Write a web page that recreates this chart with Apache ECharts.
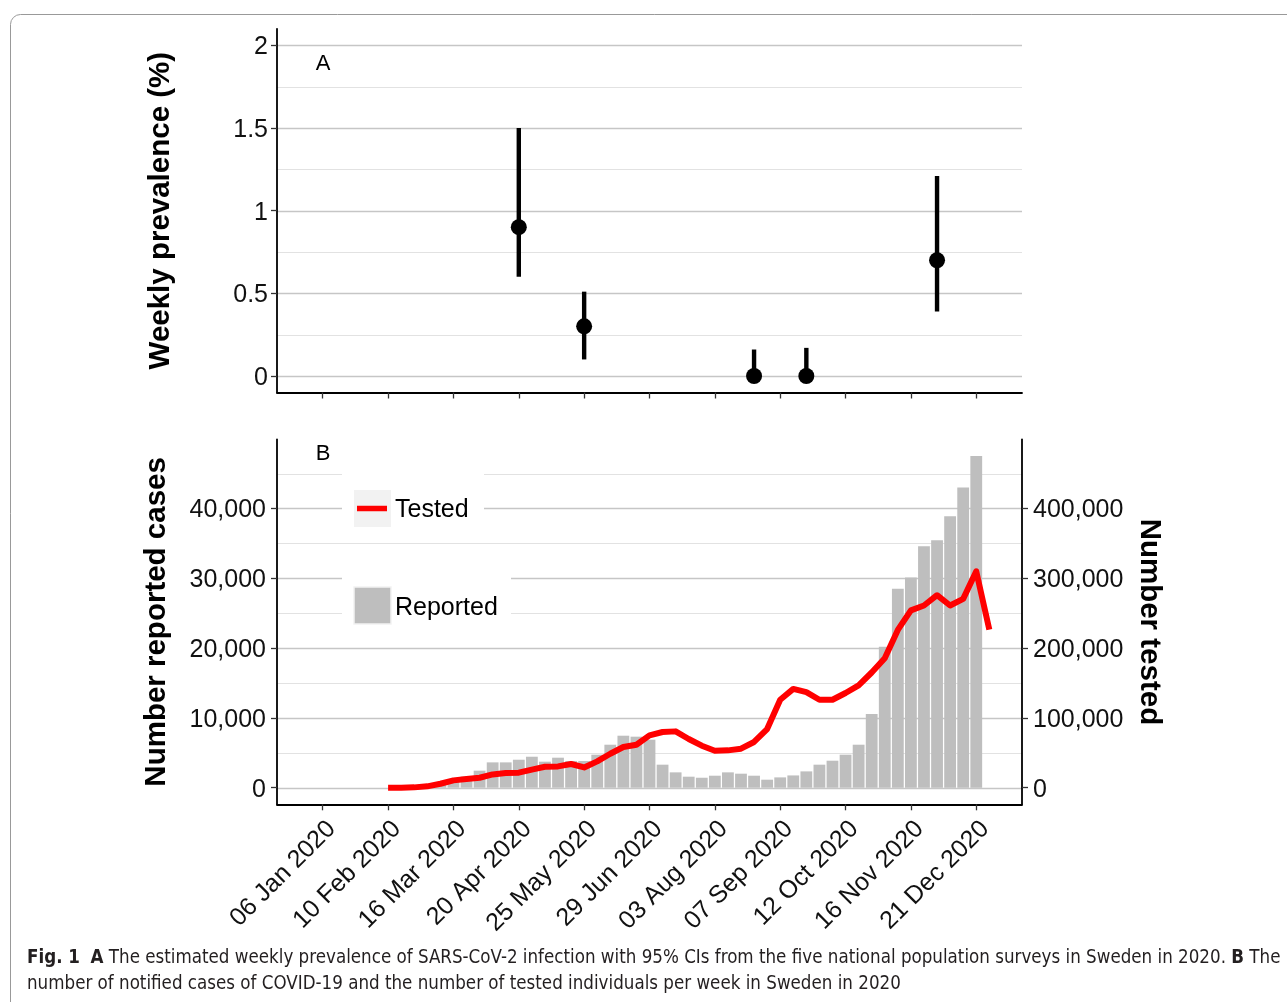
<!DOCTYPE html>
<html>
<head>
<meta charset="utf-8">
<script src="https://cdn.jsdelivr.net/npm/echarts@6/dist/echarts.min.js"></script>
<style>
html, body { margin: 0; padding: 0; background: #fff; }
#chart { width: 1287px; height: 1002px; }
</style>
</head>
<body>
<div id="chart"></div>
<script>
// x values are ISO weeks of 2020 (week 2 starts Monday 06 Jan)
var tickWeeks = [2, 7, 12, 17, 22, 27, 32, 37, 42, 47, 52];
var tickLabels = ['06 Jan 2020', '10 Feb 2020', '16 Mar 2020', '20 Apr 2020', '25 May 2020', '29 Jun 2020',
    '03 Aug 2020', '07 Sep 2020', '12 Oct 2020', '16 Nov 2020', '21 Dec 2020'];

// A: weekly prevalence (%) from the five surveys, with 95% CI
var surveyWeeks = [17, 22, 35, 39, 49];
var prevalence  = [0.9, 0.3, 0, 0, 0.7];
var ciLow       = [0.6, 0.1, 0, 0, 0.39];
var ciHigh      = [1.5, 0.51, 0.16, 0.17, 1.21];

// B: reported cases per week (bars)
var reportedWeeks = [10, 11, 12, 13, 14, 15, 16, 17, 18, 19, 20, 21, 22, 23, 24, 25, 26, 27, 28, 29, 30, 31,
    32, 33, 34, 35, 36, 37, 38, 39, 40, 41, 42, 43, 44, 45, 46, 47, 48, 49, 50, 51, 52];
var reported = [200, 700, 1100, 1600, 2440, 3630, 3630, 4010, 4440, 3730, 4300, 3820, 3820, 4730, 6160, 7450,
    7310, 6880, 3300, 2200, 1580, 1430, 1720, 2200, 2010, 1720, 1150, 1480, 1760, 2340, 3300, 3870, 4730,
    6160, 10570, 20200, 28500, 30100, 34600, 35460, 38900, 43000, 47500];

// B: tested individuals per week (line, right axis)
var testedWeeks = [7, 8, 9, 10, 11, 12, 13, 14, 15, 16, 17, 18, 19, 20, 21, 22, 23, 24, 25, 26, 27, 28, 29, 30,
    31, 32, 33, 34, 35, 36, 37, 38, 39, 40, 41, 42, 43, 44, 45, 46, 47, 48, 49, 50, 51, 52, 53];
var tested = [0, 0, 500, 2000, 5700, 10500, 12400, 14300, 19000, 21000, 21500, 26000, 30000, 30500, 34000, 29000,
    37700, 48700, 58300, 61600, 75000, 79800, 80700, 69800, 60200, 53000, 53500, 55900, 65500, 84000, 126000,
    141500, 137000, 126000, 126000, 135700, 146700, 165000, 185400, 226000, 254000, 261000, 275700, 261000,
    270500, 310000, 226500];

var prevTicks   = [0, 0.5, 1, 1.5, 2];
var prevGrid    = [0, 0.25, 0.5, 0.75, 1, 1.25, 1.5, 1.75, 2];
var casesTicks  = [0, 10000, 20000, 30000, 40000];
var casesGrid   = [0, 5000, 10000, 15000, 20000, 25000, 30000, 35000, 40000, 45000];
var testedTicks = [0, 100000, 200000, 300000, 400000];

var xMin = -1.5, xMax = 55.5;
var FONT = 'Liberation Sans, Arial, Helvetica, sans-serif';
var CAPTION_FONT = '"Liberation Sans Narrow", "DejaVu Sans Condensed", sans-serif';

var chart = echarts.init(document.getElementById('chart'), null, { renderer: 'canvas' });

// 网格线：自定义系列，放在柱子后面
function gridLines(xi, yi, values, majors) {
    return {
        type: 'custom',
        xAxisIndex: xi,
        yAxisIndex: yi,
        silent: true,
        z: 0,
        data: values.map(function (v) { return [xMin, v]; }),
        renderItem: function (params, api) {
            var cs = params.coordSys;
            var v = api.value(1);
            var y = Math.round(api.coord([xMin, v])[1]) + 0.5;
            var major = majors.indexOf(v) >= 0;
            return {
                type: 'line',
                shape: { x1: cs.x, y1: y, x2: cs.x + cs.width, y2: y },
                style: { stroke: major ? '#c6c6c6' : '#e2e2e2', lineWidth: major ? 1.4 : 1.1 }
            };
        }
    };
}

function labelOf(v) {
    var i = tickWeeks.indexOf(v);
    return i >= 0 ? tickLabels[i] : '';
}

// y 轴刻度文字稍微往下挪一点
function yLabel(fmt) {
    return function (v) {
        return '{n|' + (fmt ? v.toLocaleString('en-US') : String(v)) + '}';
    };
}
var yRich = { n: { fontSize: 25, color: '#111', fontFamily: FONT, padding: [4, 0, 0, 0] } };

var axisLineStyle = { color: '#000', width: 1.8 };
var tickStyle = { color: '#333', width: 1.3 };

var option = {
    animation: false,
    textStyle: { fontFamily: FONT },
    grid: [
        { left: 277, top: 28.8, width: 745, height: 363.7 },
        { left: 277, top: 439.5, width: 745, height: 364.8 }
    ],
    xAxis: [
        {
            gridIndex: 0, type: 'value', min: xMin, max: xMax,
            axisLine: { onZero: false, lineStyle: axisLineStyle },
            axisTick: { customValues: tickWeeks, length: 6, lineStyle: tickStyle },
            axisLabel: { show: false },
            splitLine: { show: false }
        },
        {
            gridIndex: 1, type: 'value', min: xMin, max: xMax,
            axisLine: { onZero: false, lineStyle: axisLineStyle },
            axisTick: { customValues: tickWeeks, length: 6, lineStyle: tickStyle },
            axisLabel: {
                customValues: tickWeeks, rotate: 45, margin: 12, verticalAlign: 'top',
                fontSize: 25, color: '#111', fontFamily: FONT,
                formatter: labelOf
            },
            splitLine: { show: false }
        }
    ],
    yAxis: [
        {
            gridIndex: 0, type: 'value', min: -0.1, max: 2.1,
            name: 'Weekly prevalence (%)', nameLocation: 'middle', nameGap: 101, nameRotate: 90,
            nameTextStyle: { fontSize: 29.5, fontWeight: 'bold', color: '#000', fontFamily: FONT },
            axisLine: { onZero: false, lineStyle: axisLineStyle },
            axisTick: { customValues: prevTicks, length: 6, lineStyle: tickStyle },
            axisLabel: { customValues: prevTicks, margin: 9, formatter: yLabel(false), rich: yRich },
            splitLine: { show: false }
        },
        {
            gridIndex: 1, type: 'value', min: -2375, max: 49875,
            name: 'Number reported cases', nameLocation: 'middle', nameGap: 105, nameRotate: 90,
            nameTextStyle: { fontSize: 29.5, fontWeight: 'bold', color: '#000', fontFamily: FONT },
            axisLine: { onZero: false, lineStyle: axisLineStyle },
            axisTick: { customValues: casesTicks, length: 6, lineStyle: tickStyle },
            axisLabel: { customValues: casesTicks, margin: 11, formatter: yLabel(true), rich: yRich },
            splitLine: { show: false }
        },
        {
            gridIndex: 1, type: 'value', position: 'right', min: -23750, max: 498750,
            name: 'Number tested', nameLocation: 'middle', nameGap: 111, nameRotate: -90,
            nameTextStyle: { fontSize: 29.5, fontWeight: 'bold', color: '#000', fontFamily: FONT },
            axisLine: { show: true, onZero: false, lineStyle: axisLineStyle },
            axisTick: { customValues: testedTicks, length: 6, lineStyle: tickStyle },
            axisLabel: { customValues: testedTicks, margin: 11, formatter: yLabel(true), rich: yRich },
            splitLine: { show: false }
        }
    ],
    series: [
        gridLines(0, 0, prevGrid, prevTicks),
        gridLines(1, 1, casesGrid, casesTicks),
        {
            // 95% CI
            type: 'custom', xAxisIndex: 0, yAxisIndex: 0, z: 3,
            data: surveyWeeks.map(function (w, i) { return [w, ciLow[i], ciHigh[i]]; }),
            renderItem: function (params, api) {
                var lo = api.coord([api.value(0), api.value(1)]);
                var hi = api.coord([api.value(0), api.value(2)]);
                return {
                    type: 'line',
                    shape: { x1: lo[0], y1: lo[1], x2: hi[0], y2: hi[1] },
                    style: { stroke: '#000', lineWidth: 4.4 }
                };
            }
        },
        {
            type: 'scatter', xAxisIndex: 0, yAxisIndex: 0, z: 4,
            symbol: 'circle', symbolSize: 16,
            itemStyle: { color: '#000', opacity: 1 },
            data: surveyWeeks.map(function (w, i) { return [w, prevalence[i]]; })
        },
        {
            name: 'Reported', type: 'bar', xAxisIndex: 1, yAxisIndex: 1, z: 2,
            barWidth: 11.8,
            itemStyle: { color: '#bebebe' },
            data: reportedWeeks.map(function (w, i) { return [w, reported[i]]; })
        },
        {
            name: 'Tested', type: 'line', xAxisIndex: 1, yAxisIndex: 2, z: 3,
            showSymbol: false, symbol: 'none',
            lineStyle: { color: '#ff0000', width: 6, join: 'round', cap: 'butt' },
            data: testedWeeks.map(function (w, i) { return [w, tested[i]]; })
        }
    ],
    graphic: [
        // 外框
        {
            type: 'rect', silent: true,
            shape: { x: 10.5, y: 14.5, width: 1320, height: 1020, r: 10 },
            style: { fill: 'none', stroke: '#999', lineWidth: 1 }
        },
        { type: 'text', x: 323, y: 64, style: { text: 'A', font: '22px ' + FONT, fill: '#000', textAlign: 'center', textVerticalAlign: 'middle' } },
        { type: 'text', x: 323, y: 454, style: { text: 'B', font: '22px ' + FONT, fill: '#000', textAlign: 'center', textVerticalAlign: 'middle' } },
        // legend: Tested
        { type: 'rect', z: 10, shape: { x: 342, y: 462, width: 142, height: 74 }, style: { fill: '#fff' } },
        { type: 'rect', z: 11, shape: { x: 354, y: 490, width: 37, height: 37 }, style: { fill: '#f2f2f2' } },
        { type: 'line', z: 12, shape: { x1: 357, y1: 508.5, x2: 387, y2: 508.5 }, style: { stroke: '#ff0000', lineWidth: 5.5 } },
        { type: 'text', z: 12, x: 395, y: 510, style: { text: 'Tested', font: '25px ' + FONT, fill: '#000', textVerticalAlign: 'middle' } },
        // legend: Reported
        { type: 'rect', z: 10, shape: { x: 342, y: 567, width: 169, height: 75 }, style: { fill: '#fff' } },
        { type: 'rect', z: 11, shape: { x: 354, y: 587, width: 37, height: 37 }, style: { fill: '#bebebe', stroke: '#f2f2f2', lineWidth: 1.5 } },
        { type: 'text', z: 12, x: 395, y: 608, style: { text: 'Reported', font: '25px ' + FONT, fill: '#000', textVerticalAlign: 'middle' } },
        // caption
        {
            type: 'text', x: 27, y: 958,
            style: {
                text: '{b|Fig. 1}  {b|A} The estimated weekly prevalence of SARS-CoV-2 infection with 95% CIs from the five national population surveys in Sweden in 2020. {b|B} The',
                font: '18.6px ' + CAPTION_FONT,
                fill: '#231f20', textVerticalAlign: 'middle',
                rich: { b: { font: 'bold 18.6px ' + CAPTION_FONT, fill: '#231f20' } }
            }
        },
        {
            type: 'text', x: 27, y: 984,
            style: {
                text: 'number of notified cases of COVID-19 and the number of tested individuals per week in Sweden in 2020',
                font: '18.6px ' + CAPTION_FONT,
                fill: '#231f20', textVerticalAlign: 'middle'
            }
        }
    ]
};

chart.setOption(option);
</script>
</body>
</html>
